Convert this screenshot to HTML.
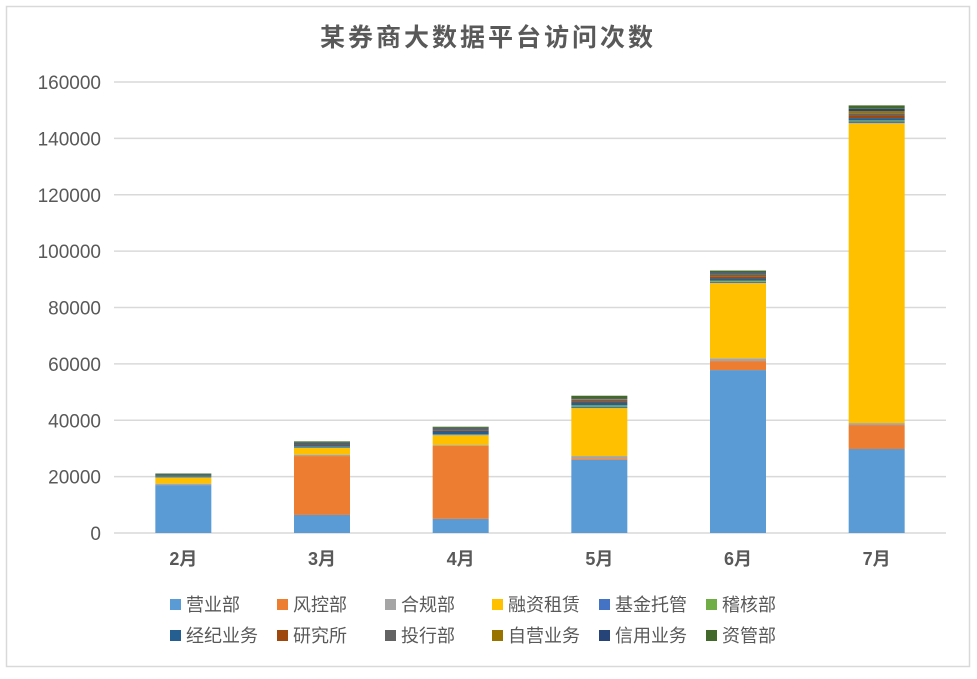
<!DOCTYPE html>
<html><head><meta charset="utf-8"><style>
body{margin:0;background:#fff;}
svg text{font-family:"Liberation Sans","Noto Sans CJK SC",sans-serif;}
</style></head><body>
<svg id="c" width="977" height="674" xmlns="http://www.w3.org/2000/svg">
<rect x="6.5" y="6.5" width="963" height="660" fill="#fff" stroke="#d9d9d9" stroke-width="1.5"/>
<text x="488" y="46" text-anchor="middle" font-size="25" font-weight="bold" fill="#595959" letter-spacing="3">某券商大数据平台访问次数</text>
<g id="grid"></g><g id="bars"></g><g id="legend"></g>
</svg>
<script>
const categories=["2月","3月","4月","5月","6月","7月"];
const seriesNames=["营业部","风控部","合规部","融资租赁","基金托管","稽核部","经纪业务","研究所","投行部","自营业务","信用业务","资管部"];
const colors=["#5B9BD5","#ED7D31","#A5A5A5","#FFC000","#4472C4","#70AD47","#255E91","#9E480E","#636363","#997300","#264478","#43682B"];
const yTicks=[0,20000,40000,60000,80000,100000,120000,140000,160000];
const s0=[17000,6400,5000,26000,57800,29800];
const s1=[0,20900,25900,500,3200,8500];
const s2=[500,500,300,800,1000,700];
const s3=[2200,2400,3500,17000,26700,106400];
const s4=[200,300,200,400,400,600];
const s5=[100,200,100,600,400,400];
const s6=[400,500,1200,1000,800,800];
const s7=[0,200,300,500,800,900];
const s8=[100,300,400,500,600,800];
const s9=[0,0,100,200,300,800];
const s10=[100,300,300,300,500,800];
const s11=[500,500,400,900,600,1200];
const series=[s0,s1,s2,s3,s4,s5,s6,s7,s8,s9,s10,s11];
const NS="http://www.w3.org/2000/svg";
const y0=533,y1=82,vmax=160000,xl=114,xr=946,bw=56;
const yPos=v=>y0-(v/vmax)*(y0-y1);
const xCenter=i=>xl+(xr-xl)/categories.length*(i+0.5);
function mk(t,a,p){const e=document.createElementNS(NS,t);for(const k in a)e.setAttribute(k,a[k]);p.appendChild(e);return e;}
const grid=document.getElementById('grid');
yTicks.forEach(v=>{
 const l=mk('line',{x1:xl,x2:xr,y1:yPos(v),y2:yPos(v),stroke:'#d9d9d9','stroke-width':1.5},grid);
 
 
 const t=mk('text',{x:101,y:yPos(v)+7,'text-anchor':'end','font-size':19,fill:'#595959'},grid);
 t.textContent=v;
 
 
});
const bars=document.getElementById('bars');
categories.forEach((c,i)=>{
 let acc=0;
 series.forEach((s,k)=>{
  const v=s[i]; if(!v){return;}
  const r=mk('rect',{x:xCenter(i)-bw/2,y:yPos(acc+v),width:bw,height:yPos(acc)-yPos(acc+v),fill:colors[k]},bars);
  
  
  acc+=v;
 });
 const t=mk('text',{x:xCenter(i),y:565,'text-anchor':'middle','font-size':18,'font-weight':'bold',fill:'#595959'},bars);
 t.textContent=c;
 
 
});
const lg=document.getElementById('legend');
const lx=[170,277,385,492,599,706];
seriesNames.forEach((n,k)=>{
 const row=Math.floor(k/6),col=k%6;
 const y=604+row*31;
 const r=mk('rect',{x:lx[col],y:y-5,width:11,height:11,fill:colors[k]},lg);
 
 
 const t=mk('text',{x:lx[col]+16,y:y+7,'font-size':18,fill:'#595959'},lg);
 t.textContent=n;
 
 
});
</script>
</body></html>
